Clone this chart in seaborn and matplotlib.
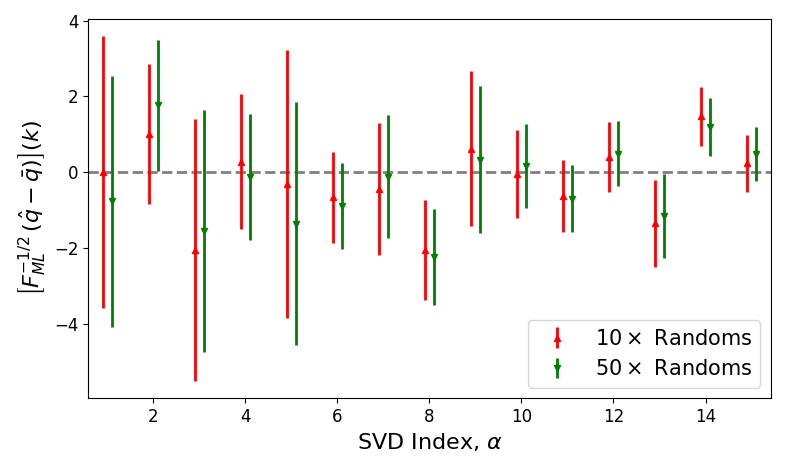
import numpy as np
import pandas as pd
import matplotlib
matplotlib.use('Agg')
import matplotlib.pyplot as plt
import seaborn as sns

# Valores (centro e meia-largura da barra de erro)
alpha = np.arange(1, 16)
val_10 = [0.0, 1.0, -2.05, 0.28, -0.31, -0.66, -0.45, -2.05, 0.62, -0.06, -0.62, 0.40, -1.35, 1.47, 0.23]
err_10 = [3.59, 1.85, 3.45, 1.78, 3.53, 1.20, 1.74, 1.32, 2.04, 1.16, 0.95, 0.93, 1.14, 0.78, 0.74]
val_50 = [-0.77, 1.76, -1.54, -0.13, -1.36, -0.90, -0.12, -2.24, 0.33, 0.17, -0.70, 0.49, -1.15, 1.20, 0.49]
err_50 = [3.31, 1.73, 3.19, 1.66, 3.21, 1.13, 1.62, 1.26, 1.94, 1.11, 0.89, 0.86, 1.11, 0.77, 0.71]

df = pd.DataFrame({
    'alpha': np.concatenate([alpha - 0.1, alpha + 0.1]),
    'valor': val_10 + val_50,
    'erro': err_10 + err_50,
    'serie': ['10'] * 15 + ['50'] * 15,
})

sns.set_style('ticks')
plt.rcParams['font.family'] = ['DejaVu Sans']
plt.rcParams['mathtext.fontset'] = 'dejavusans'
plt.rcParams['text.color'] = 'black'
plt.rcParams['axes.labelcolor'] = 'black'

fig = plt.figure(figsize=(7.89, 4.71), dpi=100)
ax = fig.add_axes([0.1115, 0.155, 0.8655, 0.805])

estilos = {'10': ('red', '^', r'$10\times$ Randoms'),
           '50': ('green', 'v', r'$50\times$ Randoms')}
for serie, sub in df.groupby('serie'):
    cor, marcador, rotulo = estilos[serie]
    ax.errorbar(sub['alpha'], sub['valor'], yerr=sub['erro'], fmt=marcador,
                color=cor, ms=5, lw=2, label=rotulo)

ax.axhline(0, color='gray', ls='--', lw=2, zorder=0)
ax.set_xlim(0.58, 15.42)
ax.margins(y=0.05)
ax.set_xticks([2, 4, 6, 8, 10, 12, 14])
ax.tick_params(labelsize=12, colors='black')
for s in ax.spines.values():
    s.set_color('black')
ax.set_xlabel(r'SVD Index, $\alpha$', fontsize=16)
ax.set_ylabel(r'$\left[F_{ML}^{-1/2}\,(\hat{q}-\bar{q})\right](k)$', fontsize=16)
ax.legend(loc='lower right', fontsize=15)

fig.savefig('out.png', dpi=100)
